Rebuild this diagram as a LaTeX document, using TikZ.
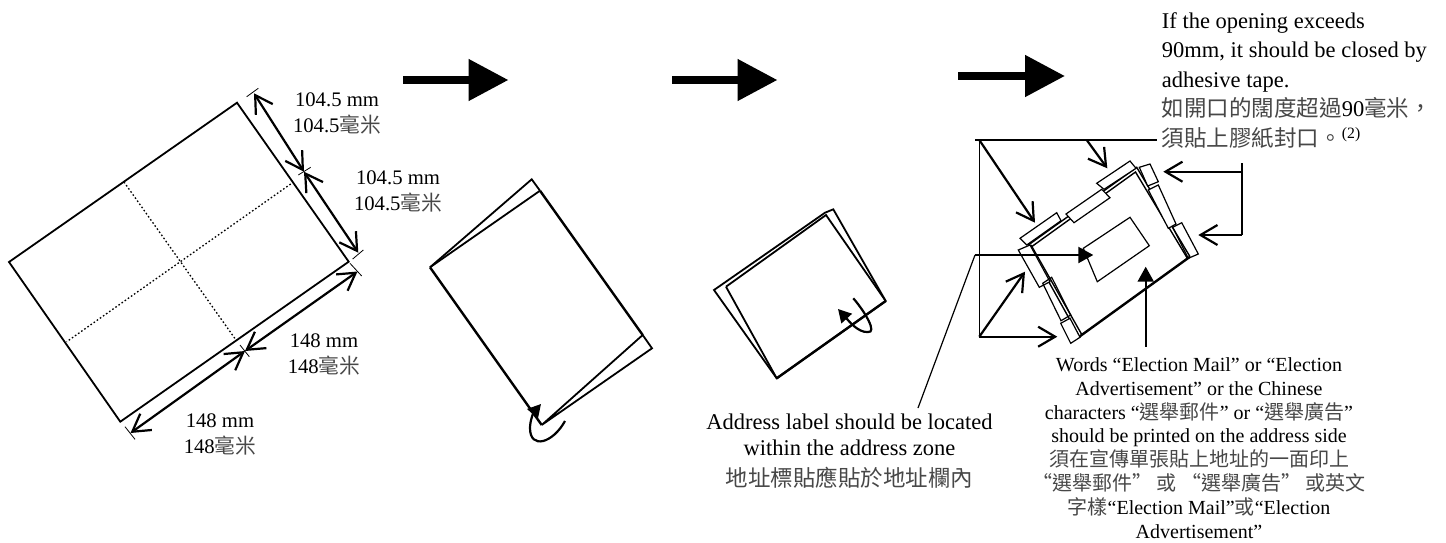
\documentclass[tikz,border=0pt]{standalone}
\usepackage{fontspec}
\setmainfont{Liberation Serif}
\newfontfamily\cjk{Noto Sans CJK TC}
\usetikzlibrary{arrows.meta}

\newcommand{\zh}[1]{{\cjk\color{black!72}#1}}

\tikzset{
	paper/.style={line width=1.8pt, line join=miter},
	heavy/.style={line width=2.4pt},
	fold/.style={line width=1.3pt, dash pattern=on 1.6pt off 2.2pt},
	tick/.style={line width=0.8pt},
	thin line/.style={line width=1.2pt},
	tape/.style={line width=1.2pt},
	dimarrow/.style={line width=2.2pt, {Straight Barb[length=17pt,width=20pt]}-{Straight Barb[length=17pt,width=20pt]}},
	openarrow/.style={line width=2.2pt, -{Straight Barb[length=17pt,width=20pt]}},
	fillarrow/.style={line width=2.2pt, -{Triangle[length=15pt,width=16pt]}},
	curlarrow/.style={line width=2.2pt, -{Triangle[length=13pt,width=14pt]}},
	bigarrow/.style={line width=8pt, -{Triangle[length=40pt,width=40pt]}},
	label/.style={font=\fontsize{20.7}{26}\selectfont, align=center, inner sep=0pt},
	addr/.style={font=\fontsize{22.5}{26}\selectfont, align=center, inner sep=0pt},
	note/.style={font=\fontsize{20}{23.8}\selectfont, align=center, inner sep=0pt},
	topnote/.style={font=\fontsize{22.5}{29.5}\selectfont, align=left, inner sep=0pt},
}

\begin{document}
\begin{tikzpicture}[x=1pt, y=-1pt]
	\useasboundingbox (0, 0) rectangle (1446, 542);
	
	% flat sheet
	\draw[paper] (237, 102.7) -- (348.7, 261.7) -- (120.3, 421.7) -- (9, 262) -- cycle;
	\draw[fold] (124, 182) -- (236, 340);
	\draw[fold] (290.7, 184) -- (66.7, 341.7);
	
	\coordinate (dimA) at (254, 93.3);
	\coordinate (dimB) at (304, 171.7);
	\coordinate (dimC) at (358.3, 252.7);
	\coordinate (dimD) at (357.5, 271.5);
	\coordinate (dimE) at (245, 351);
	\coordinate (dimF) at (130.5, 433);
	
	\draw[dimarrow] (dimA) -- (dimB);
	\draw[dimarrow] (dimB) -- (dimC);
	\draw[dimarrow] (dimD) -- (dimE);
	\draw[dimarrow] (dimE) -- (dimF);
	
	\draw[tick] (246.7, 96.7) -- (258.3, 88.3);
	\draw[tick] (298.3, 175) -- (310.7, 167.3);
	\draw[tick] (352.7, 259) -- (363.3, 250);
	\draw[tick] (350, 263.3) -- (361.7, 276);
	\draw[tick] (240, 345) -- (249.3, 356.7);
	\draw[tick] (125, 426.7) -- (135, 439.3);
	
	\node[label] (sizeA) at (337, 113) {104.5 mm\\104.5\zh{毫米}};
	\node[label] (sizeB) at (398, 191) {104.5 mm\\104.5\zh{毫米}};
	\node[label] (sizeC) at (324, 354) {148 mm\\148\zh{毫米}};
	\node[label] (sizeD) at (220, 434) {148 mm\\148\zh{毫米}};
	
	% step arrows
	\coordinate (stepAa) at (403, 80);
	\coordinate (stepAb) at (508.5, 80);
	\coordinate (stepBa) at (672, 80);
	\coordinate (stepBb) at (777.5, 80);
	\coordinate (stepCa) at (958, 76);
	\coordinate (stepCb) at (1065, 76);
	
	\draw[bigarrow] (stepAa) -- (stepAb);
	\draw[bigarrow] (stepBa) -- (stepBb);
	\draw[bigarrow] (stepCa) -- (stepCb);
	
	% first fold
	\draw[paper] (430, 267.3) -- (531.7, 179.3) -- (540, 190.7);
	\draw[paper] (430, 267.3) -- (540, 190.7);
	\draw[heavy] (540, 190.7) -- (642.7, 335);
	\draw[heavy] (430, 267.3) -- (541.7, 425);
	\draw[paper] (642.7, 335) -- (541.7, 425) -- (652, 348.3) -- cycle;
	
	\coordinate (curlAa) at (565, 421);
	\coordinate (curlAb) at (541, 404);
	\draw[curlarrow] (curlAa) .. controls (553, 443) and (530, 450) .. (530, 428) .. controls (530, 420) and (534, 412) .. (curlAb);
	
	% second fold
	\draw[paper] (714, 290) -- (825, 212.7) -- (833.3, 209.3) -- (885.7, 301) -- (776.7, 378.3) -- cycle;
	\draw[paper] (726, 286.7) -- (826, 215) -- (885.7, 301);
	\draw[paper] (726, 286.7) -- (776.7, 378.3);
	\draw[heavy] (776.7, 378.3) -- (885.7, 301);
	
	\coordinate (curlBa) at (853.3, 298.3);
	\coordinate (curlBb) at (838, 309);
	\draw[curlarrow] (curlBa) .. controls (866, 313) and (877, 333) .. (868, 332) .. controls (858, 333) and (848, 320) .. (curlBb);
	
	% finished item
	\draw[heavy] (1079.3, 336.7) -- (1190, 256.7);
	\draw[line width=1.4pt] (1028.3, 245) -- (1136.7, 167.3) -- (1190, 256.7);
	\draw[line width=1.4pt] (1030.5, 247.5) -- (1135.5, 172) -- (1187.5, 258.5);
	\draw[line width=1.4pt] (1028.3, 245) -- (1079.3, 336.7);
	\draw[line width=1.4pt] (1031, 245) -- (1082, 335);
	
	\draw[tape, fill=white] (1020, 238.3) -- (1056.7, 212.7) -- (1061, 220.7) -- (1026.7, 245) -- cycle;
	\draw[tape, fill=white] (1066, 214) -- (1101.7, 189.3) -- (1110, 197.7) -- (1074, 222.7) -- cycle;
	\draw[tape, fill=white] (1096.7, 183.3) -- (1130, 161) -- (1136, 168.3) -- (1104, 189.3) -- cycle;
	\draw[tape, fill=white] (1139.3, 167.3) -- (1150, 164) -- (1158.3, 181.7) -- (1147.7, 186) -- cycle;
	\draw[tape, fill=white] (1148.3, 190) -- (1158.3, 185) -- (1176, 224) -- (1168.3, 228.3) -- cycle;
	\draw[tape] (1172.7, 227.3) -- (1181.7, 222.7) -- (1198.3, 254) -- (1188.3, 258.3) -- cycle;
	\draw[tape, fill=white] (1018.3, 250) -- (1030, 245) -- (1050, 281.7) -- (1039.3, 287.3) -- cycle;
	\draw[tape] (1042.7, 283.3) -- (1051.7, 277.3) -- (1070.7, 315) -- (1061, 320.7) -- cycle;
	\draw[tape, fill=white] (1060.7, 323.3) -- (1070, 318.3) -- (1080, 337.3) -- (1070.7, 343.3) -- cycle;
	\draw[tape] (1083.3, 248.3) -- (1130, 217.3) -- (1149.3, 245.7) -- (1097.3, 281.7) -- cycle;
	
	% leaders
	\coordinate (leadA) at (975, 140);
	\coordinate (leadB) at (979.3, 140);
	\coordinate (leadC) at (1086.7, 140);
	\coordinate (leadD) at (979.3, 336.7);
	\coordinate (leadE) at (975, 255);
	\coordinate (leadF) at (918, 408);
	\coordinate (leadG) at (1241.7, 163.3);
	\coordinate (leadH) at (1241.7, 171.7);
	\coordinate (leadI) at (1241.7, 235);
	\coordinate (tipA) at (1035, 222.7);
	\coordinate (tipB) at (1107.3, 168.3);
	\coordinate (tipC) at (1025, 271.7);
	\coordinate (tipD) at (1057.3, 336.7);
	\coordinate (tipE) at (1093.3, 255);
	\coordinate (tipF) at (1163.3, 171.7);
	\coordinate (tipG) at (1198.3, 235);
	\coordinate (tipH) at (1145.7, 266.7);
	\coordinate (footH) at (1145.7, 346.7);
	
	\node[topnote, anchor=north west] (tapeNote) at (1161.7, 12) {If the opening exceeds\\90mm, it should be closed by\\adhesive tape.\\\zh{如開口的闊度超過}90\zh{毫米，}\\\zh{須貼上膠紙封口。}\textsuperscript{(2)}};
	\node[addr, anchor=north] (addrNote) at (849.5, 414) {Address label should be located\\within the address zone\\[5pt]\zh{地址標貼應貼於地址欄內}};
	\node[note, anchor=north] (wordNote) at (1199, 357.5) {Words “Election Mail” or “Election\\Advertisement” or the Chinese\\characters “\zh{選舉郵件}” or “\zh{選舉廣告}”\\should be printed on the address side\\\zh{須在宣傳單張貼上地址的一面印上}\\\zh{“選舉郵件” 或 “選舉廣告” 或英文}\\\zh{字樣}“Election Mail”\zh{或}“Election\\Advertisement”};
	
	\draw[thin line] (leadA) -- (1156.7, 140);
	\draw[thin line] (leadB) -- (leadD);
	\draw[thin line] (leadE) -- (leadF);
	\draw[line width=1.8pt] (leadG) -- (leadI);
	
	\draw[openarrow] (leadB) -- (tipA);
	\draw[openarrow] (leadC) -- (tipB);
	\draw[openarrow] (leadD) -- (tipC);
	\draw[openarrow] (leadD) -- (tipD);
	\draw[openarrow] (leadH) -- (tipF);
	\draw[openarrow] (leadI) -- (tipG);
	\draw[fillarrow] (leadE) -- (tipE);
	\draw[fillarrow] (footH) -- (tipH);
\end{tikzpicture}
\end{document}
